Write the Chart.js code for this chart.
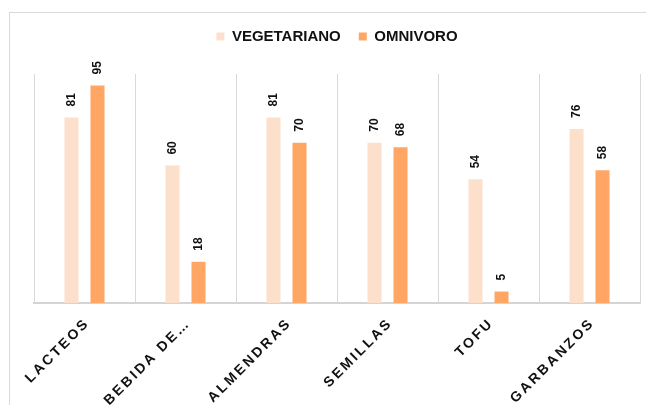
<!DOCTYPE html>
<html>
<head>
<meta charset="utf-8">
<script src="https://cdn.jsdelivr.net/npm/chart.js@4.4.1/dist/chart.umd.min.js"></script>
<style>
  html, body { margin: 0; padding: 0; background: #fff; }
  #wrap { width: 646px; height: 405px; }
</style>
</head>
<body>
<div id="wrap"><canvas id="chart" width="646" height="405"></canvas></div>
<script>
const categories = ['LACTEOS', 'BEBIDA DE…', 'ALMENDRAS', 'SEMILLAS', 'TOFU', 'GARBANZOS'];
const vegetariano = [81, 60, 81, 70, 54, 76];
const omnivoro = [95, 18, 70, 68, 5, 58];

const FONT = '"Liberation Sans", Arial, sans-serif';

// outer frame (cut off on the right and bottom like the original)
const frame = {
  id: 'frame',
  beforeDraw(chart) {
    const c = chart.ctx;
    c.save();
    c.strokeStyle = '#d9d9d9';
    c.lineWidth = 1;
    c.strokeRect(9.5, 12.5, 700, 500);
    c.restore();
  }
};

// extra room under the legend
const legendGap = {
  id: 'legendGap',
  beforeLayout(chart) {
    const lg = chart.legend;
    if (lg && !lg._gapPatched) {
      const fit = lg.fit;
      lg.fit = function () {
        fit.call(this);
        this.height += 20;
      };
      lg._gapPatched = true;
    }
  }
};

// rotated value labels above each bar
const valueLabels = {
  id: 'valueLabels',
  afterDatasetsDraw(chart) {
    const c = chart.ctx;
    c.save();
    c.font = 'bold 12px ' + FONT;
    c.fillStyle = '#111';
    c.textAlign = 'left';
    c.textBaseline = 'middle';
    chart.data.datasets.forEach((ds, i) => {
      chart.getDatasetMeta(i).data.forEach((bar, j) => {
        c.save();
        c.translate(bar.x, bar.y - 11);
        c.rotate(-Math.PI / 2);
        c.fillText(ds.data[j], 0, 0);
        c.restore();
      });
    });
    c.restore();
  }
};

// spaced, 45 degree category labels
const catLabels = {
  id: 'catLabels',
  afterDraw(chart) {
    const c = chart.ctx;
    const x = chart.scales.x;
    c.save();
    c.font = 'bold 14px ' + FONT;
    c.letterSpacing = '2.5px';
    c.fillStyle = '#111';
    c.textAlign = 'right';
    c.textBaseline = 'middle';
    categories.forEach((lab, i) => {
      c.save();
      c.translate(x.getPixelForValue(i) + 3, x.top + 18);
      c.rotate(-Math.PI / 4);
      c.fillText(lab, 0, 0);
      c.restore();
    });
    c.restore();
  }
};

new Chart(document.getElementById('chart'), {
  type: 'bar',
  data: {
    labels: categories,
    datasets: [
      { label: 'VEGETARIANO', data: vegetariano, backgroundColor: '#fde0cb',
        categoryPercentage: 0.515, barPercentage: 0.54 },
      { label: 'OMNIVORO', data: omnivoro, backgroundColor: '#ffa664',
        categoryPercentage: 0.515, barPercentage: 0.54 }
    ]
  },
  options: {
    responsive: false,
    animation: false,
    layout: { padding: { left: 34, right: 6, top: 11, bottom: 0 } },
    plugins: {
      legend: {
        position: 'top',
        labels: {
          boxWidth: 8, boxHeight: 8, padding: 18,
          color: '#111',
          font: { family: FONT, size: 15, weight: 'bold' }
        }
      },
      tooltip: { enabled: false }
    },
    scales: {
      x: {
        grid: { color: '#d9d9d9', drawTicks: false },
        border: { color: '#d4d4d4', width: 2 },
        ticks: { display: false },
        afterFit(s) { s.height = 102; }
      },
      y: {
        display: false,
        min: 0, max: 100
      }
    }
  },
  plugins: [frame, legendGap, valueLabels, catLabels]
});
</script>
</body>
</html>
